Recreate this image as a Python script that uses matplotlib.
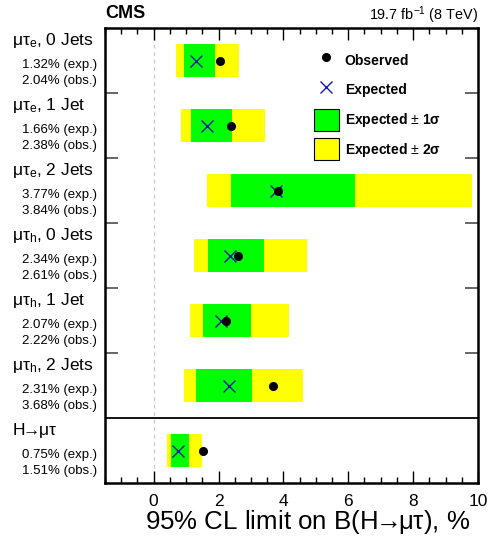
import matplotlib
matplotlib.use("Agg")
import matplotlib.pyplot as plt
from matplotlib.ticker import MultipleLocator
from matplotlib.lines import Line2D
from matplotlib.patches import Patch
import matplotlib.transforms as mtransforms

plt.rcParams['font.family'] = ['Liberation Sans', 'DejaVu Sans']
plt.rcParams['mathtext.fontset'] = 'custom'
plt.rcParams['mathtext.rm'] = 'Liberation Sans'
plt.rcParams['mathtext.it'] = 'Liberation Sans'
plt.rcParams['mathtext.bf'] = 'Liberation Sans:bold'

ARROW = r"$\!\!{\rightarrow}\!\!$"

# ---- data ----
categories = [r"μτ$_\mathrm{e}$, 0 Jets", r"μτ$_\mathrm{e}$, 1 Jet", r"μτ$_\mathrm{e}$, 2 Jets",
              r"μτ$_\mathrm{h}$, 0 Jets", r"μτ$_\mathrm{h}$, 1 Jet", r"μτ$_\mathrm{h}$, 2 Jets",
              "H" + ARROW + "μτ"]
expected = [1.32, 1.66, 3.77, 2.34, 2.07, 2.31, 0.75]
observed = [2.04, 2.38, 3.84, 2.61, 2.22, 3.68, 1.51]
band2_lo = [0.70, 0.85, 1.65, 1.25, 1.13, 0.94, 0.42]
band1_lo = [0.94, 1.16, 2.39, 1.68, 1.51, 1.31, 0.54]
band1_hi = [1.90, 2.43, 6.21, 3.41, 3.00, 3.04, 1.10]
band2_hi = [2.64, 3.44, 9.83, 4.73, 4.18, 4.60, 1.50]
xticks = [0, 2, 4, 6, 8, 10]

fig = plt.figure(figsize=(4.9, 5.39), dpi=100)
ax = fig.add_axes([105/490, 1-483/539, (478-105)/490, (483-28)/539])

n = len(categories)
ypos = list(range(n))
bh = 0.51
ax.barh(ypos, [h - l for l, h in zip(band2_lo, band2_hi)], left=band2_lo, height=bh,
        color='#ffff00', edgecolor='none', zorder=2)
ax.barh(ypos, [h - l for l, h in zip(band1_lo, band1_hi)], left=band1_lo, height=bh,
        color='#00ff00', edgecolor='none', zorder=3)
ax.plot(expected, ypos, linestyle='none', marker='x', color='#1a1aa6', ms=9, mew=1.0, zorder=4)
ax.plot(observed, ypos, linestyle='none', marker='o', color='black', ms=5.5, zorder=5)

ax.axvline(0, color='#c8c8c8', ls=(0, (3, 3)), lw=0.9, zorder=1)
ax.axhline(n - 1.5, color='black', lw=1.3, zorder=6)

ax.set_xlim(-1.5, 10)
ax.set_ylim(n - 0.5, -0.5)
ax.set_xticks(xticks)
ax.xaxis.set_minor_locator(MultipleLocator(0.5))
ax.tick_params(axis='x', which='major', direction='in', top=True, bottom=True, length=8.5, width=1.0,
               labelsize=12.5, pad=8)
ax.tick_params(axis='x', which='minor', direction='in', top=True, bottom=True, length=4.3, width=1.0)
ax.set_yticks([i + 0.5 for i in range(n - 2)])
ax.set_yticklabels([])
ax.tick_params(axis='y', which='major', direction='in', left=True, right=True, length=9.5, width=1.4,
               color='#666666')
for s in ax.spines.values():
    s.set_linewidth(1.8)

fig.text(470/490, 1-522/539, "95% CL limit on B(H" + ARROW + "μτ), %", fontsize=18.6,
         ha='right', va='center')

# left labels
trans = mtransforms.blended_transform_factory(fig.transFigure, ax.transData)
for i in range(n):
    ax.text(12/490, i - 0.31, categories[i], transform=trans, fontsize=12.5, ha='left', va='center')
    ax.text(97/490, i + 0.07, f"{expected[i]:.2f}% (exp.)", transform=trans, fontsize=9.5,
            ha='right', va='center')
    ax.text(97/490, i + 0.32, f"{observed[i]:.2f}% (obs.)", transform=trans, fontsize=9.5,
            ha='right', va='center')

fig.text(105/490, 1-14/539, "CMS", fontsize=13, fontweight='bold', ha='left', va='center')
fig.text(478/490, 1-15/539, r"19.7 fb$^{-1}$ (8 TeV)", fontsize=10.4, ha='right', va='center')

handles = [Line2D([], [], linestyle='none', marker='o', color='black', ms=5.5),
           Line2D([], [], linestyle='none', marker='x', color='#1a1aa6', ms=9, mew=1.0),
           Patch(facecolor='#00ff00', edgecolor='black', lw=0.8),
           Patch(facecolor='#ffff00', edgecolor='black', lw=0.8)]
labels = ["Observed", "Expected", r"Expected $\pm$ 1σ", r"Expected $\pm$ 2σ"]
leg = ax.legend(handles, labels, loc='upper left', bbox_to_anchor=(308/490, 1-44/539),
                bbox_transform=fig.transFigure, frameon=False,
                prop={'weight': 'bold', 'size': 10}, handlelength=1.85, handleheight=2.05,
                labelspacing=0.55, handletextpad=0.4, borderaxespad=0)

fig.savefig("out.png", dpi=100)
